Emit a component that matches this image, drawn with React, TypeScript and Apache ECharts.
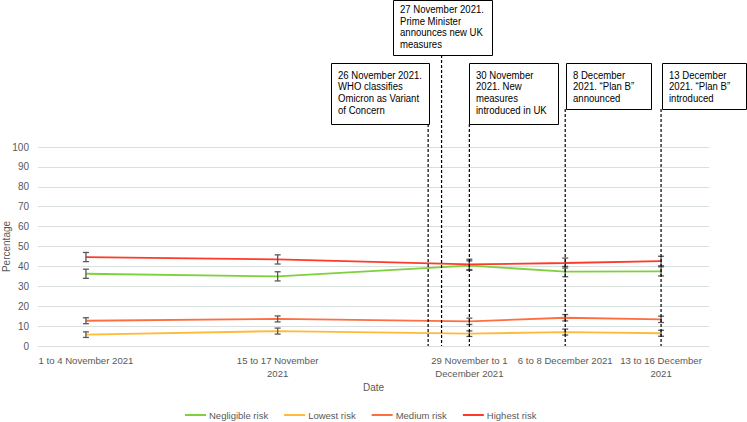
import React, { useEffect, useRef } from "react";
import * as echarts from "echarts";

const FONT = "'Liberation Sans', Arial, sans-serif";

// x positions in weeks from the first survey period
const xPositions = [0, 2, 4, 5, 6];
const dateLabels = [
  "1 to 4 November 2021",
  "15 to 17 November\n2021",
  "29 November to 1\nDecember 2021",
  "6 to 8 December 2021",
  "13 to 16 December\n2021",
];
const seriesNames = ["Negligible risk", "Lowest risk", "Medium risk", "Highest risk"];
const negligible = [36.3, 35.0, 40.4, 37.4, 37.5];
const lowest = [5.7, 7.5, 6.2, 7.0, 6.4];
const medium = [12.7, 13.6, 12.4, 14.2, 13.4];
const highest = [44.7, 43.5, 41.0, 41.7, 42.7];
const negligibleErr = [2.3, 2.3, 2.4, 2.6, 2.3];
const lowestErr = [1.4, 1.5, 1.4, 1.5, 1.5];
const mediumErr = [1.5, 1.5, 1.6, 1.6, 1.6];
const highestErr = [2.3, 2.3, 2.6, 2.5, 2.4];
const colors = ["#7FD13B", "#FFBA3A", "#FF6E40", "#FF3A28"];

// event annotation x positions (weeks) and box texts
const eventX = [3.57, 3.71, 4.0, 5.0, 6.0];
const eventText = [
  "26 November 2021.\nWHO classifies\nOmicron as Variant\nof Concern",
  "27 November 2021.\nPrime Minister\nannounces new UK\nmeasures",
  "30 November\n2021. New\nmeasures\nintroduced in UK",
  "8 December\n2021. \u201cPlan B\u201d\nannounced",
  "13 December\n2021. \u201cPlan B\u201d\nintroduced",
];
// box layout: [left, top, width, height]
const boxLayout = [
  [331, 63, 98, 61],
  [393, 0, 99, 55],
  [469, 63, 89, 61],
  [566, 63, 85, 46],
  [662, 63, 84, 46],
];

export default function App() {
  const ref = useRef<HTMLDivElement>(null);
  useEffect(() => {
    if (!ref.current) return;
    const chart = echarts.init(ref.current, null, { renderer: "svg" });
    const values = [negligible, lowest, medium, highest];
    const errs = [negligibleErr, lowestErr, mediumErr, highestErr];

    const lineSeries = values.map((vals, i) => ({
      name: seriesNames[i],
      type: "line",
      symbol: "none",
      data: vals.map((v, j) => [xPositions[j], v]),
      lineStyle: { color: colors[i], width: 1.8 },
      itemStyle: { color: colors[i] },
      z: 2,
    }));

    const errSeries = values.map((vals, i) => ({
      name: seriesNames[i] + " error",
      type: "custom",
      data: vals.map((v, j) => [xPositions[j], v - errs[i][j], v + errs[i][j]]),
      encode: { x: 0, y: [1, 2] },
      z: 4,
      renderItem: (params: any, api: any) => {
        const x = api.value(0);
        const lo = api.coord([x, api.value(1)]);
        const hi = api.coord([x, api.value(2)]);
        const w = 3;
        const st = { stroke: "#595959", lineWidth: 1.3 };
        return {
          type: "group",
          children: [
            { type: "line", shape: { x1: lo[0], y1: lo[1], x2: hi[0], y2: hi[1] }, style: st },
            { type: "line", shape: { x1: lo[0] - w, y1: lo[1], x2: lo[0] + w, y2: lo[1] }, style: st },
            { type: "line", shape: { x1: hi[0] - w, y1: hi[1], x2: hi[0] + w, y2: hi[1] }, style: st },
          ],
        };
      },
    }));

    const eventSeries = {
      name: "events",
      type: "custom",
      data: eventX.map((x, i) => [x, i]),
      encode: { x: 0 },
      z: 5,
      silent: true,
      renderItem: (params: any, api: any) => {
        const x = api.value(0);
        const idx = api.value(1);
        const bottom = api.coord([x, 0]);
        const b = boxLayout[idx];
        return {
          type: "line",
          shape: { x1: bottom[0], y1: b[1] + b[3], x2: bottom[0], y2: bottom[1] },
          style: { stroke: "#000", lineWidth: 1.2, lineDash: [3, 2] },
        };
      },
    };

    const graphics: any[] = [];
    boxLayout.forEach((b, i) => {
      graphics.push({
        type: "rect",
        shape: { x: b[0] + 0.5, y: b[1] + 0.5, width: b[2], height: b[3] },
        style: { fill: "#fff", stroke: "#000", lineWidth: 1 },
        z: 10,
      });
      graphics.push({
        type: "text",
        x: b[0] + 7,
        y: b[1] + (i === 1 ? 3.5 : 6),
        scaleX: 0.87,
        z: 11,
        style: {
          text: eventText[i],
          font: `11px ${FONT}`,
          fill: "#000",
          lineHeight: 11.7,
          verticalAlign: "top",
        },
      });
    });

    chart.setOption({
      animation: false,
      grid: { left: 38, right: 38, top: 147, bottom: 76, outerBoundsMode: "none", containLabel: false },
      legend: {
        data: seriesNames,
        left: 184,
        top: 410,
        padding: 0,
        itemWidth: 21,
        itemHeight: 2,
        itemGap: 15,
        textStyle: { fontFamily: FONT, fontSize: 9.5, color: "#595959", padding: [0, 0, 0, -2] },
      },
      xAxis: {
        type: "value",
        min: -0.5,
        max: 6.5,
        name: "Date",
        nameLocation: "middle",
        nameGap: 36,
        nameTextStyle: { fontFamily: FONT, fontSize: 10, color: "#595959" },
        splitLine: { show: false },
        axisTick: { show: false },
        axisLine: { show: true, lineStyle: { color: "#D9DFDE", width: 1 } },
        axisLabel: {
          customValues: xPositions,
          formatter: (v: number) => {
            const i = xPositions.indexOf(v);
            return i >= 0 ? dateLabels[i] : "";
          },
          fontFamily: FONT,
          fontSize: 9.6,
          color: "#595959",
          lineHeight: 13,
          margin: 8,
        },
      },
      yAxis: {
        type: "value",
        min: 0,
        max: 100,
        interval: 10,
        name: "Percentage",
        nameLocation: "middle",
        nameGap: 27,
        nameMoveOverlap: false,
        nameTextStyle: { fontFamily: FONT, fontSize: 10, color: "#595959" },
        axisLine: { show: false },
        axisTick: { show: false },
        splitLine: { lineStyle: { color: "#D9DFDE", width: 1 } },
        axisLabel: { fontFamily: FONT, fontSize: 10, color: "#595959", margin: 9 },
      },
      series: [...lineSeries, ...errSeries, eventSeries],
      graphic: graphics,
    });
    return () => chart.dispose();
  }, []);
  return (
    <div
      ref={ref}
      style={{ position: "absolute", left: 0, top: 0, width: 747, height: 422, background: "#fff" }}
    />
  );
}
